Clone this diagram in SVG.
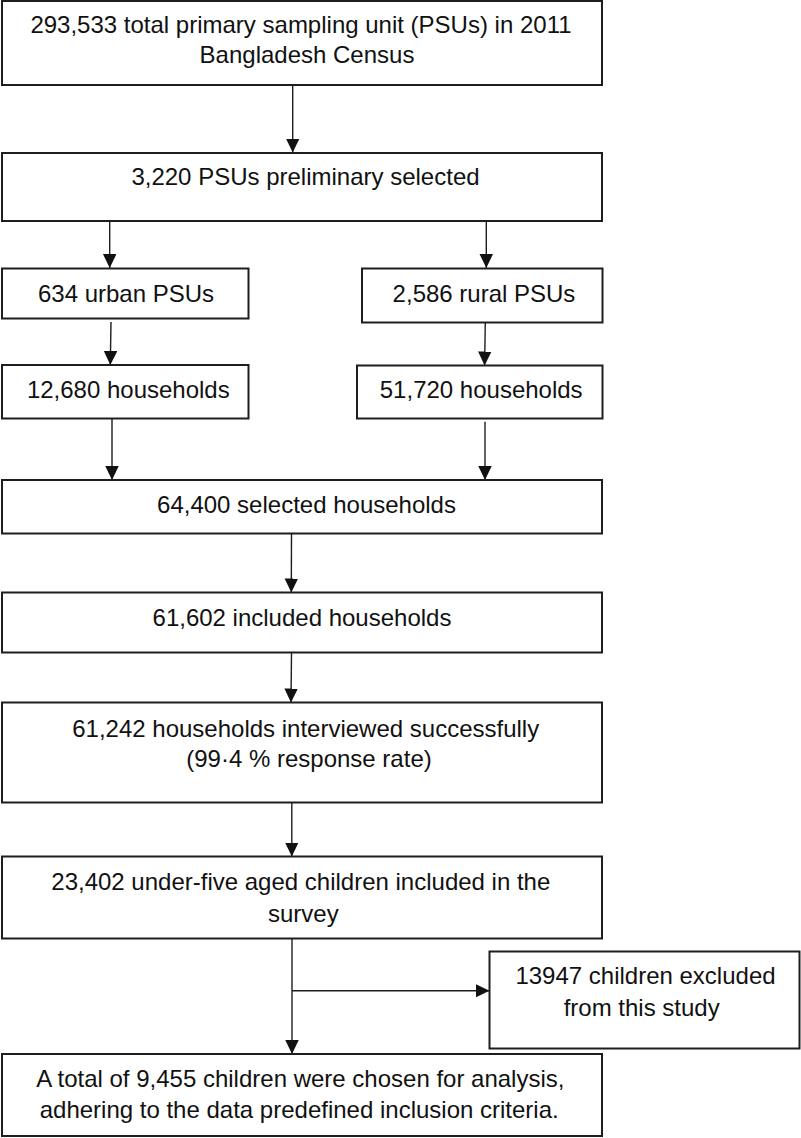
<svg xmlns="http://www.w3.org/2000/svg" width="801" height="1138" viewBox="0 0 801 1138">
<style>
  .box { fill: #ffffff; stroke: #1e1e1e; stroke-width: 2; }
  .lbl { font-family: "Liberation Sans", Arial, sans-serif; font-size: 24px; fill: #111111; text-anchor: middle; }
  .conn { stroke: #1e1e1e; stroke-width: 1.4; fill: none; }
</style>
<defs>
  <marker id="arrow" markerUnits="userSpaceOnUse" markerWidth="14" markerHeight="14" refX="14" refY="6.75" orient="auto">
    <path d="M0,0 L14,6.75 L0,13.5 z" fill="#111111"/>
  </marker>
</defs>
<rect width="801" height="1138" fill="#ffffff"/>

<g id="connectors">
  <line class="conn" x1="292.7" y1="85" x2="292.7" y2="152.5" marker-end="url(#arrow)"/>
  <line class="conn" x1="109.7" y1="221" x2="109.7" y2="268" marker-end="url(#arrow)"/>
  <line class="conn" x1="486.3" y1="221" x2="486.3" y2="268" marker-end="url(#arrow)"/>
  <line class="conn" x1="111" y1="322" x2="110.3" y2="365" marker-end="url(#arrow)"/>
  <line class="conn" x1="485.3" y1="322.5" x2="484.6" y2="365.5" marker-end="url(#arrow)"/>
  <line class="conn" x1="112" y1="418.5" x2="112" y2="480" marker-end="url(#arrow)"/>
  <line class="conn" x1="485" y1="421.7" x2="485" y2="480" marker-end="url(#arrow)"/>
  <line class="conn" x1="291.5" y1="533.5" x2="291.3" y2="592.5" marker-end="url(#arrow)"/>
  <line class="conn" x1="291.5" y1="652.5" x2="291" y2="702.5" marker-end="url(#arrow)"/>
  <line class="conn" x1="291.8" y1="802.5" x2="291.8" y2="856.5" marker-end="url(#arrow)"/>
  <line class="conn" x1="292" y1="938.5" x2="292" y2="1054" marker-end="url(#arrow)"/>
  <line class="conn" x1="292" y1="990.7" x2="489.5" y2="990.7" marker-end="url(#arrow)"/>
</g>

<g id="node-census">
  <rect class="box" x="2" y="1" width="600" height="84"/>
  <text class="lbl" x="301" y="33.3">293,533 total primary sampling unit (PSUs) in 2011</text>
  <text class="lbl" x="307" y="63.3">Bangladesh Census</text>
</g>
<g id="node-preliminary">
  <rect class="box" x="2" y="153" width="600" height="68"/>
  <text class="lbl" x="305.5" y="185">3,220 PSUs preliminary selected</text>
</g>
<g id="node-urban">
  <rect class="box" x="2" y="268.5" width="246.5" height="50"/>
  <text class="lbl" x="126" y="301.7">634 urban PSUs</text>
</g>
<g id="node-rural">
  <rect class="box" x="362" y="268.5" width="240.5" height="54"/>
  <text class="lbl" x="484" y="301.7">2,586 rural PSUs</text>
</g>
<g id="node-urban-hh">
  <rect class="box" x="2" y="365" width="246.5" height="53.5"/>
  <text class="lbl" x="128.3" y="398.3">12,680 households</text>
</g>
<g id="node-rural-hh">
  <rect class="box" x="357" y="365.5" width="245.5" height="53"/>
  <text class="lbl" x="481.2" y="398.3">51,720 households</text>
</g>
<g id="node-selected">
  <rect class="box" x="2" y="480" width="600" height="53.5"/>
  <text class="lbl" x="306.5" y="513.3">64,400 selected households</text>
</g>
<g id="node-included">
  <rect class="box" x="2" y="592.5" width="600" height="60"/>
  <text class="lbl" x="302" y="626">61,602 included households</text>
</g>
<g id="node-interviewed">
  <rect class="box" x="2" y="702.5" width="600" height="100"/>
  <text class="lbl" x="305.7" y="736.7">61,242 households interviewed successfully</text>
  <text class="lbl" x="309" y="766.7">(99·4 % response rate)</text>
</g>
<g id="node-children">
  <rect class="box" x="2" y="856.5" width="600" height="82"/>
  <text class="lbl" x="300.8" y="890">23,402 under-five aged children included in the</text>
  <text class="lbl" x="303.3" y="921.7">survey</text>
</g>
<g id="node-excluded">
  <rect class="box" x="489.5" y="951.5" width="310" height="97"/>
  <text class="lbl" x="645.5" y="984.3">13947 children excluded</text>
  <text class="lbl" x="641.7" y="1015.7">from this study</text>
</g>
<g id="node-final">
  <rect class="box" x="2" y="1054" width="600" height="82"/>
  <text class="lbl" x="300.3" y="1086.7">A total of 9,455 children were chosen for analysis,</text>
  <text class="lbl" x="299.2" y="1118.3">adhering to the data predefined inclusion criteria.</text>
</g>
</svg>
